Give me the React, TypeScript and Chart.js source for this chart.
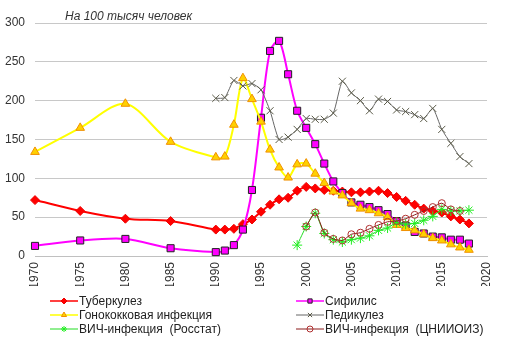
import React, { useEffect, useRef } from 'react';
import { Chart, registerables } from 'chart.js';
import { drawPoint } from 'chart.js/helpers';

Chart.register(...registerables);

const titleText = 'На 100 тысяч человек';

const tbYears = [1970, 1975, 1980, 1985, 1990, 1991, 1992, 1993, 1994, 1995, 1996, 1997, 1998, 1999, 2000, 2001, 2002, 2003, 2004, 2005, 2006, 2007, 2008, 2009, 2010, 2011, 2012, 2013, 2014, 2015, 2016, 2017, 2018];
const tbValues = [72, 58, 48, 45, 34, 34, 35, 41, 47, 57, 66, 73, 75, 84, 89, 87, 85, 84, 83, 82, 82, 83, 84, 81, 76, 71, 66, 61, 58, 56, 51, 47, 42];

const syphYears = tbYears;
const syphValues = [13, 20, 22, 10, 5, 7, 14, 34, 85, 178, 264, 277, 234, 187, 165, 144, 119, 96, 81, 69, 66, 63, 59, 54, 45, 39, 31, 29, 25, 24, 21, 21, 16];

const gonYears = tbYears;
const gonValues = [134, 165, 196, 147, 127, 128, 169, 229, 202, 173, 137, 114, 101, 118, 119, 106, 94, 83, 78, 68, 61, 59, 55, 50, 40, 36, 33, 28, 23, 20, 15, 11, 8];

const pedYears = [1990, 1991, 1992, 1993, 1994, 1995, 1996, 1997, 1998, 1999, 2000, 2001, 2002, 2003, 2004, 2005, 2006, 2007, 2008, 2009, 2010, 2011, 2012, 2013, 2014, 2015, 2016, 2017, 2018];
const pedValues = [203, 204, 226, 219, 222, 214, 187, 150, 153, 163, 177, 176, 176, 184, 225, 210, 200, 187, 202, 199, 188, 186, 182, 177, 190, 163, 145, 128, 119];

const hivRYears = [1999, 2000, 2001, 2002, 2003, 2004, 2005, 2006, 2007, 2008, 2009, 2010, 2011, 2012, 2013, 2014, 2015, 2016, 2017, 2018];
const hivRValues = [14, 38, 55, 29, 21, 18, 21, 23, 26, 33, 36, 43, 41, 42, 46, 51, 60, 58, 58, 59];

const hivCYears = [2000, 2001, 2002, 2003, 2004, 2005, 2006, 2007, 2008, 2009, 2010, 2011, 2012, 2013, 2014, 2015, 2016, 2017];
const hivCValues = [38, 56, 30, 22, 20, 28, 30, 35, 40, 44, 45, 48, 53, 58, 63, 68, 60, 58];

const seriesLabels = [
  'Туберкулез',
  'Сифилис',
  'Гонококковая инфекция',
  'Педикулез',
  'ВИЧ-инфекция  (Росстат)',
  'ВИЧ-инфекция  (ЦНИИОИЗ)',
];

const FONT = 'Liberation Sans, Arial, sans-serif';

const pts = (xs: number[], ys: number[]) => xs.map((x, i) => ({ x, y: ys[i] }));

const titlePlugin = {
  id: 'unitTitle',
  afterDraw(chart: any) {
    const { ctx } = chart;
    ctx.save();
    ctx.font = `italic 12px ${FONT}`;
    ctx.fillStyle = '#333';
    ctx.textBaseline = 'alphabetic';
    ctx.textAlign = 'left';
    ctx.fillText(titleText, chart.chartArea.left + 30, 20);
    ctx.restore();
  },
};

const legendPlugin = {
  id: 'twoColLegend',
  afterDraw(chart: any) {
    const { ctx } = chart;
    const datasets = chart.data.datasets;
    const cols = [50, 296];
    const rows = [301, 315, 329];
    ctx.save();
    datasets.forEach((ds: any, i: number) => {
      const x0 = cols[i % 2];
      const y = rows[Math.floor(i / 2)];
      ctx.beginPath();
      ctx.strokeStyle = ds.borderColor;
      ctx.lineWidth = Math.max(1, ds.borderWidth - 0.5);
      ctx.moveTo(x0, y);
      ctx.lineTo(x0 + 28, y);
      ctx.stroke();
      ctx.fillStyle = ds.pointBackgroundColor;
      ctx.strokeStyle = ds.pointBorderColor;
      ctx.lineWidth = 1;
      drawPoint(ctx, { pointStyle: ds.pointStyle, rotation: 0, radius: 3, borderWidth: 1 } as any, x0 + 14, y);
      ctx.font = `12px ${FONT}`;
      ctx.fillStyle = '#222';
      ctx.textAlign = 'left';
      ctx.textBaseline = 'middle';
      ctx.fillText(ds.label, x0 + 29, y + 0.5);
    });
    ctx.restore();
  },
};

export default function App() {
  const ref = useRef<HTMLCanvasElement | null>(null);

  useEffect(() => {
    if (!ref.current) return;
    const chart = new Chart(ref.current, {
      type: 'line',
      data: {
        datasets: [
          {
            label: seriesLabels[0],
            data: pts(tbYears, tbValues),
            borderColor: '#ff0000',
            borderWidth: 2,
            pointStyle: 'rectRot',
            pointRadius: 4.5,
            pointBackgroundColor: '#ff0000',
            pointBorderColor: '#ee0000',
            pointBorderWidth: 1,
            tension: 0.3,
            clip: false,
            order: 5,
          },
          {
            label: seriesLabels[1],
            data: pts(syphYears, syphValues),
            borderColor: '#ff00ff',
            borderWidth: 2,
            pointStyle: 'rect',
            pointRadius: 5,
            pointBackgroundColor: '#ff00ff',
            pointBorderColor: '#222222',
            pointBorderWidth: 1,
            tension: 0.3,
            clip: false,
            order: 4,
          },
          {
            label: seriesLabels[2],
            data: pts(gonYears, gonValues),
            borderColor: '#ffff00',
            borderWidth: 2,
            pointStyle: 'triangle',
            pointRadius: 5,
            pointBackgroundColor: '#ffd000',
            pointBorderColor: '#f09000',
            pointBorderWidth: 1,
            tension: 0.3,
            clip: false,
            order: 3,
          },
          {
            label: seriesLabels[3],
            data: pts(pedYears, pedValues),
            borderColor: '#666666',
            borderWidth: 1,
            pointStyle: 'crossRot',
            pointRadius: 5,
            pointBackgroundColor: '#5a5a48',
            pointBorderColor: '#5a5a48',
            pointBorderWidth: 1,
            tension: 0.2,
            clip: false,
            order: 2,
          },
          {
            label: seriesLabels[4],
            data: pts(hivRYears, hivRValues),
            borderColor: '#22dd22',
            borderWidth: 1,
            pointStyle: 'star',
            pointRadius: 5,
            pointBackgroundColor: '#33ff33',
            pointBorderColor: '#22ee22',
            pointBorderWidth: 1,
            tension: 0.2,
            clip: false,
            order: 1,
          },
          {
            label: seriesLabels[5],
            data: pts(hivCYears, hivCValues),
            borderColor: '#8b1a1a',
            borderWidth: 1,
            pointStyle: 'circle',
            pointRadius: 3.5,
            pointBackgroundColor: 'rgba(0,0,0,0)',
            pointBorderColor: '#b03030',
            pointBorderWidth: 1,
            tension: 0.2,
            clip: false,
            order: 0,
          },
        ],
      },
      options: {
        animation: false,
        responsive: false,
        devicePixelRatio: 1,
        layout: { padding: { top: 23, right: 25, bottom: 65, left: 0 } },
        plugins: {
          legend: { display: false },
          tooltip: { enabled: false },
          title: { display: false },
        },
        scales: {
          x: {
            type: 'linear',
            min: 1970,
            max: 2020,
            ticks: {
              stepSize: 5,
              minRotation: 90,
              maxRotation: 90,
              autoSkip: false,
              padding: 6,
              color: '#333',
              font: { family: FONT, size: 12 },
              callback: (v: any) => String(v),
            },
            grid: { display: false, drawTicks: false },
            border: { display: true, color: '#c0c0c0' },
            afterFit: (s: any) => {
              s.height = 30;
            },
          },
          y: {
            min: 0,
            max: 300,
            ticks: {
              stepSize: 50,
              padding: 10,
              color: '#333',
              font: { family: FONT, size: 12 },
            },
            grid: { color: '#c8c8c8', drawTicks: false, lineWidth: 1 },
            border: { display: false },
            afterFit: (s: any) => {
              s.width = 35;
            },
          },
        },
      } as any,
      plugins: [titlePlugin, legendPlugin],
    });
    return () => chart.destroy();
  }, []);

  return (
    <div style={{ position: 'fixed', left: 0, top: 0, width: 512, height: 351, background: '#fff' }}>
      <canvas ref={ref} width={512} height={351} style={{ width: 512, height: 351, display: 'block' }} />
    </div>
  );
}
